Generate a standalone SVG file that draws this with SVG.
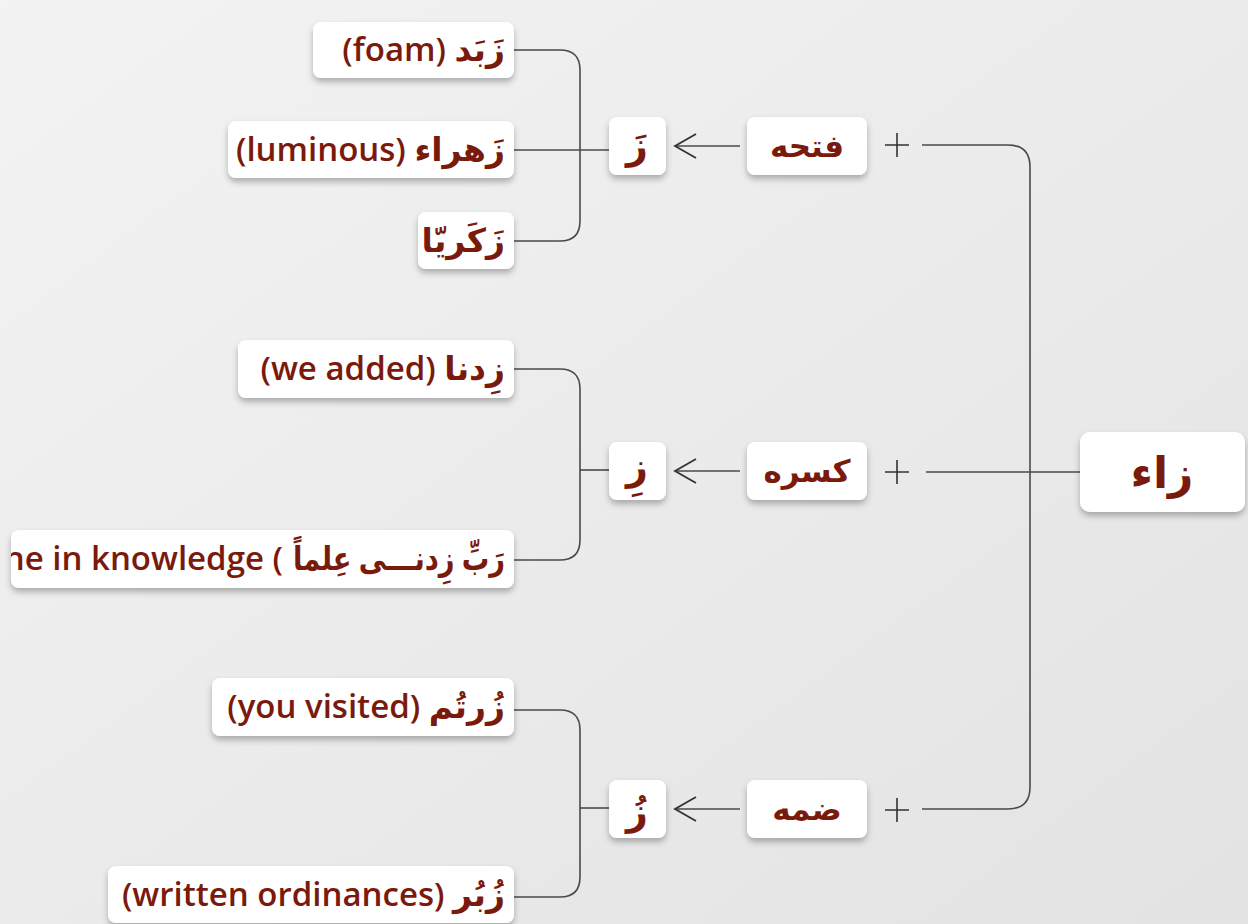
<svg xmlns="http://www.w3.org/2000/svg" width="1248" height="924" viewBox="0 0 1248 924">
<defs>
<linearGradient id="bg" x1="0" y1="0" x2="1" y2="1">
<stop offset="0" stop-color="#f3f3f3"/>
<stop offset="1" stop-color="#e3e3e3"/>
</linearGradient>
<filter id="sh" x="-20%" y="-30%" width="140%" height="170%">
<feDropShadow dx="0" dy="4" stdDeviation="3" flood-color="#000" flood-opacity="0.28"/>
</filter>
<marker id="arr" markerUnits="userSpaceOnUse" markerWidth="26" markerHeight="28" viewBox="0 0 26 28" refX="23" refY="14" orient="auto">
<path d="M2,2 L23,14 L2,26" fill="none" stroke="#333" stroke-width="1.8"/>
</marker>
<clipPath id="clipB2"><rect x="11" y="530" width="503" height="58" rx="8"/></clipPath>
</defs>
<style>
.box{fill:#ffffff;filter:url(#sh)}
.ln{fill:none;stroke:#4a4a4a;stroke-width:1.6}
.w{font-family:"Open Sans","DejaVu Sans",sans-serif;font-weight:600;font-size:33px;fill:#7a1a0c}
.h{font-family:"DejaVu Sans",sans-serif;font-weight:bold;font-size:31px;fill:#7a1a0c}
.s{font-family:"DejaVu Sans",sans-serif;font-weight:bold;font-size:38px;fill:#7a1a0c}
.z{font-family:"DejaVu Sans",sans-serif;font-weight:bold;font-size:44px;fill:#7a1a0c}
.p{fill:none;stroke:#333;stroke-width:1.6}
</style>
<rect x="0" y="0" width="1248" height="924" fill="url(#bg)"/>

<g id="connectors">
<path class="ln" d="M514,50 H560 Q580,50 580,70 V221 Q580,241 560,241 H514"/>
<path class="ln" d="M514,150 H609"/>
<path class="ln" d="M514,369 H560 Q580,369 580,389 V540 Q580,560 560,560 H514"/>
<path class="ln" d="M580,470 H609"/>
<path class="ln" d="M514,710 H560 Q580,710 580,730 V877 Q580,897 560,897 H514"/>
<path class="ln" d="M580,808 H609"/>
<path class="ln" d="M740,146 H675" marker-end="url(#arr)"/>
<path class="ln" d="M740,471 H675" marker-end="url(#arr)"/>
<path class="ln" d="M740,809 H675" marker-end="url(#arr)"/>
<path class="p" d="M885,145 H909 M897,133 V157"/>
<path class="p" d="M885,472 H909 M897,460 V484"/>
<path class="p" d="M885,810 H909 M897,798 V822"/>
<path class="ln" d="M922,145 H1008 Q1030,145 1030,167 V787 Q1030,809 1008,809 H922"/>
<path class="ln" d="M926,472 H1080"/>
</g>

<g id="root">
<rect class="box" x="1080" y="432" width="165" height="80" rx="10"/>
<text class="z" x="1162" y="488" text-anchor="middle">زاء</text>
</g>

<g id="fatha">
<rect class="box" x="747" y="117" width="120" height="58" rx="8"/>
<text class="h" x="807" y="157" text-anchor="middle">فتحه</text>
</g>
<g id="kasra">
<rect class="box" x="747" y="442" width="120" height="58" rx="8"/>
<text class="h" x="807" y="482" text-anchor="middle">کسره</text>
</g>
<g id="damma">
<rect class="box" x="747" y="780" width="120" height="58" rx="8"/>
<text class="h" x="807" y="820" text-anchor="middle">ضمه</text>
</g>

<g id="zfatha">
<rect class="box" x="609" y="117" width="57" height="58" rx="8"/>
<text class="s" x="637" y="159" text-anchor="middle">زَ</text>
</g>
<g id="zkasra">
<rect class="box" x="609" y="442" width="57" height="58" rx="8"/>
<text class="s" x="637" y="480" text-anchor="middle">زِ</text>
</g>
<g id="zdamma">
<rect class="box" x="609" y="780" width="57" height="58" rx="8"/>
<text class="s" x="637" y="825" text-anchor="middle">زُ</text>
</g>

<g id="a1">
<rect class="box" x="313" y="22" width="201" height="56" rx="8"/>
<text class="w" x="505" y="61" text-anchor="end">(foam) زَبَد</text>
</g>
<g id="a2">
<rect class="box" x="228" y="121" width="286" height="57" rx="8"/>
<text class="w" x="505" y="161" text-anchor="end">(luminous) زَهراء</text>
</g>
<g id="a3">
<rect class="box" x="418" y="212" width="96" height="57" rx="8"/>
<text class="w" x="505" y="252" text-anchor="end">زَكَريّا</text>
</g>

<g id="b1">
<rect class="box" x="238" y="340" width="276" height="58" rx="8"/>
<text class="w" x="505" y="380" text-anchor="end">(we added) زِدنا</text>
</g>
<g id="b2">
<rect class="box" x="11" y="530" width="503" height="58" rx="8"/>
<g clip-path="url(#clipB2)">
<text class="w" x="283" y="570" text-anchor="end">ne in knowledge (</text>
<text class="w" x="505" y="570" text-anchor="end" textLength="212" lengthAdjust="spacingAndGlyphs">رَبِّ زِدنـــی عِلماً</text>
</g>
</g>

<g id="c1">
<rect class="box" x="212" y="678" width="302" height="58" rx="8"/>
<text class="w" x="505" y="718" text-anchor="end">(you visited) زُرتُم</text>
</g>
<g id="c2">
<rect class="box" x="108" y="866" width="406" height="57" rx="8"/>
<text class="w" x="505" y="906" text-anchor="end">(written ordinances) زُبُر</text>
</g>
</svg>
